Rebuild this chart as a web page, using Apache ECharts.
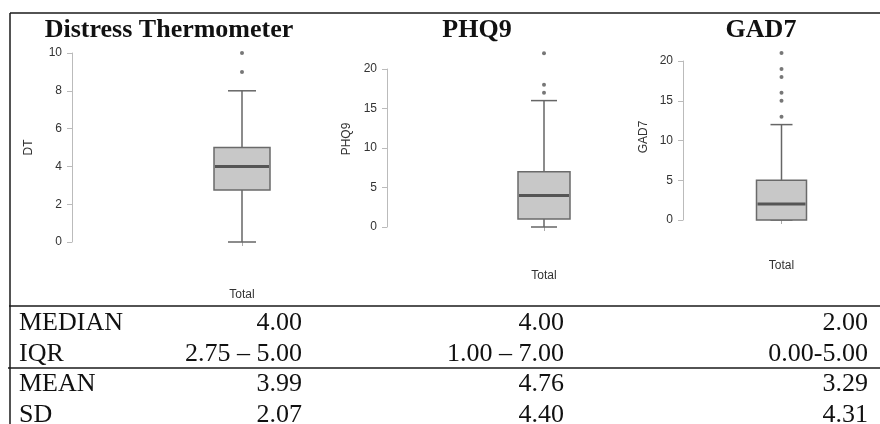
<!DOCTYPE html>
<html><head><meta charset="utf-8">
<script src="https://cdn.jsdelivr.net/npm/echarts@6/dist/echarts.min.js"></script>
<style>html,body{margin:0;padding:0;background:#fff}#c{width:880px;height:424px}</style>
</head><body><div id="c"></div>
<script>
const categories = ['Total'];
const panelTitles = ['Distress Thermometer', 'PHQ9', 'GAD7'];
const axisNames = ['DT', 'PHQ9', 'GAD7'];
// [lower whisker, Q1, median, Q3, upper whisker]
const dtBox = [0, 2.75, 4, 5, 8];
const phq9Box = [0, 1, 4, 7, 16];
const gad7Box = [0, 0, 2, 5, 12];
const dtOutliers = [9, 10];
const phq9Outliers = [17, 18, 22];
const gad7Outliers = [13, 15, 16, 18, 19, 21];
const dtTicks = [0, 2, 4, 6, 8, 10];
const phq9Ticks = [0, 5, 10, 15, 20];
const gad7Ticks = [0, 5, 10, 15, 20];
const statLabels = ['MEDIAN', 'IQR', 'MEAN', 'SD'];
const dtStats = ['4.00', '2.75 \u2013 5.00', '3.99', '2.07'];
const phq9Stats = ['4.00', '1.00 \u2013 7.00', '4.76', '4.40'];
const gad7Stats = ['2.00', '0.00-5.00', '3.29', '4.31'];

const boxes = [dtBox, phq9Box, gad7Box];
const outliers = [dtOutliers, phq9Outliers, gad7Outliers];
const ticks = [dtTicks, phq9Ticks, gad7Ticks];
const stats = [dtStats, phq9Stats, gad7Stats];

const layouts = [
  {left: 72, top: 53, width: 340, height: 189, box: 56, cap: 28, xOffset: 12, labelMargin: 35, nameGap: 37, namePad: [0, 0, 0, 0], titleX: 169},
  {left: 387, top: 69, width: 314, height: 158, box: 52, cap: 26, xOffset: 10, labelMargin: 33, nameGap: 34, namePad: [0, 0, 0, 18], titleX: 477},
  {left: 683, top: 61, width: 300, height: 159, box: 50, cap: 22, xOffset: 8, labelMargin: 32, nameGap: 33, namePad: [0, 0, 0, 7], titleX: 761}
];
const colRight = [302, 564, 868];
const rowY = [323, 354, 384, 415];
const SANS = '"Liberation Sans", Arial, sans-serif';
const SERIF = '"Liberation Serif", "Times New Roman", serif';

function makeRender(boxW, capW) {
  return function (params, api) {
    const xi = api.value(0);
    const p = [1, 2, 3, 4, 5].map(d => api.coord([xi, api.value(d)]));
    const cx = p[0][0];
    const yMin = p[0][1], yQ1 = p[1][1], yMed = p[2][1], yQ3 = p[3][1], yMax = p[4][1];
    const ln = (x1, y1, x2, y2, w, c) => ({type: 'line', shape: {x1, y1, x2, y2}, style: {stroke: c, lineWidth: w}});
    return {type: 'group', children: [
      ln(cx, yMax, cx, yQ3, 1.5, '#666'),
      ln(cx, yQ1, cx, yMin, 1.5, '#666'),
      ln(cx - capW / 2, yMax, cx + capW / 2, yMax, 1.5, '#666'),
      ln(cx - capW / 2, yMin, cx + capW / 2, yMin, 1.5, '#666'),
      {type: 'rect', shape: {x: cx - boxW / 2, y: yQ3, width: boxW, height: yQ1 - yQ3},
       style: {fill: '#c8c8c8', stroke: '#6a6a6a', lineWidth: 1.5}},
      ln(cx - boxW / 2 + 1, yMed, cx + boxW / 2 - 1, yMed, 3, '#555')
    ]};
  };
}

const grid = [], xAxis = [], yAxis = [], series = [];
layouts.forEach((L, i) => {
  grid.push({left: L.left, top: L.top, width: L.width, height: L.height});
  xAxis.push({
    type: 'category', gridIndex: i, data: categories, offset: L.xOffset,
    axisLine: {show: false},
    axisTick: {show: true, alignWithLabel: true, length: 4, lineStyle: {color: '#aaa'}},
    axisLabel: {margin: L.labelMargin, color: '#333', fontSize: 12, fontFamily: SANS},
    splitLine: {show: false}
  });
  const t = ticks[i];
  yAxis.push({
    type: 'value', gridIndex: i, min: t[0], max: t[t.length - 1], interval: t[1] - t[0],
    name: axisNames[i], nameLocation: 'middle', nameGap: L.nameGap,
    nameTextStyle: {color: '#333', fontSize: 12, fontFamily: SANS, padding: L.namePad},
    axisLine: {show: true, lineStyle: {color: '#bbb', width: 1}},
    axisTick: {show: true, length: 5, lineStyle: {color: '#bbb'}},
    axisLabel: {margin: 10, color: '#333', fontSize: 12, fontFamily: SANS},
    splitLine: {show: false}
  });
  series.push({
    type: 'custom', xAxisIndex: i, yAxisIndex: i,
    renderItem: makeRender(L.box, L.cap),
    encode: {x: 0, y: [1, 2, 3, 4, 5]},
    data: [[0].concat(boxes[i])],
    clip: false, silent: true
  });
  series.push({
    type: 'scatter', xAxisIndex: i, yAxisIndex: i, clip: false, silent: true,
    symbolSize: 4, itemStyle: {color: '#555'},
    data: outliers[i].map(v => [categories[0], v])
  });
});

const graphic = [];
const hline = (x1, x2, y) => graphic.push({type: 'line', shape: {x1, y1: y, x2, y2: y}, style: {stroke: '#1a1a1a', lineWidth: 1.5}, silent: true});
hline(10, 880, 13);
hline(9, 880, 306);
hline(8, 880, 368);
graphic.push({type: 'line', shape: {x1: 10, y1: 13, x2: 10, y2: 424}, style: {stroke: '#1a1a1a', lineWidth: 1.5}, silent: true});

const txt = (s, x, y, align, font) => graphic.push({
  type: 'text', x, y, silent: true,
  style: {text: s, font, fill: '#111', textAlign: align, textVerticalAlign: 'middle', align: align, verticalAlign: 'middle'}
});
panelTitles.forEach((s, i) => txt(s, layouts[i].titleX, 30.5, 'center', 'bold 26px ' + SERIF));
statLabels.forEach((s, r) => {
  txt(s, 19, rowY[r], 'left', '26px ' + SERIF);
  stats.forEach((col, c) => txt(col[r], colRight[c], rowY[r], 'right', '26px ' + SERIF));
});

const chart = echarts.init(document.getElementById('c'), null, {renderer: 'canvas'});
chart.setOption({animation: false, backgroundColor: '#fff', grid, xAxis, yAxis, series, graphic});
</script></body></html>
